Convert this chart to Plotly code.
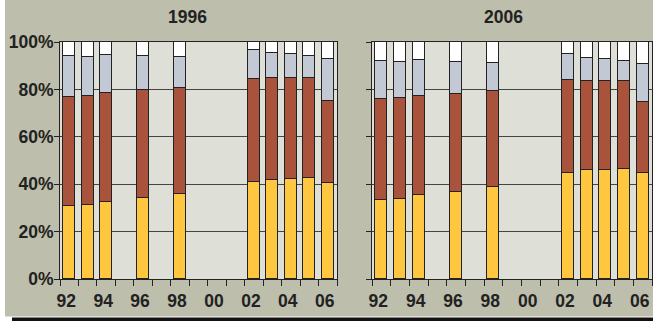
import plotly.graph_objects as go

# ---- data ----
years = [1992, 1993, 1994, 1996, 1998, 2002, 2003, 2004, 2005, 2006]
tick_years = [1992, 1994, 1996, 1998, 2000, 2002, 2004, 2006]
tick_labels = ["92", "94", "96", "98", "00", "02", "04", "06"]
y_ticks = [0, 20, 40, 60, 80, 100]
y_tick_labels = ["0%", "20%", "40%", "60%", "80%", "100%"]
panel_titles = ["1996", "2006"]

# shares (percent) per segment, bottom to top
s1996_yellow = [30.8, 31.2, 32.4, 34.0, 35.9, 40.8, 41.9, 42.1, 42.5, 40.5]
s1996_red = [46.0, 45.9, 45.9, 45.6, 44.7, 43.7, 42.8, 42.6, 42.2, 34.7]
s1996_blue = [17.5, 16.7, 16.2, 14.5, 12.9, 12.0, 10.5, 10.1, 9.3, 17.5]
s1996_white = [5.7, 6.2, 5.5, 5.9, 6.5, 3.5, 4.8, 5.2, 6.0, 7.3]

s2006_yellow = [33.3, 33.9, 35.4, 36.7, 38.8, 44.7, 45.9, 46.1, 46.4, 44.7]
s2006_red = [42.6, 42.3, 41.7, 41.4, 40.4, 39.1, 37.6, 37.6, 37.1, 29.9]
s2006_blue = [16.2, 15.5, 15.2, 13.6, 11.8, 11.1, 9.6, 9.0, 8.6, 16.0]
s2006_white = [7.9, 8.3, 7.7, 8.3, 9.0, 5.1, 6.9, 7.3, 7.9, 9.4]

# ---- styling ----
W, H = 653, 321
ML, MR, MT, MB = 60, 1, 42, 42
PW = W - ML - MR
PH = H - MT - MB

OLIVE = "#BDBEAB"
PLOT_BG = "#DEDFD6"
YELLOW = "#FFC640"
RED = "#A9523C"
BLUE = "#C2C9D4"
WHITE = "#FFFFFF"
DARK = "#222222"
FONT = "Liberation Sans, Arial, sans-serif"


def px_x(p):
    return (p - ML) / PW


def px_y(p):
    return (H - MB - p) / PH


fig = go.Figure()
colors = [YELLOW, RED, BLUE, WHITE]
panels = [
    ("x", "y", [s1996_yellow, s1996_red, s1996_blue, s1996_white]),
    ("x2", "y2", [s2006_yellow, s2006_red, s2006_blue, s2006_white]),
]
for xa, ya, series in panels:
    for vals, col in zip(series, colors):
        fig.add_trace(go.Bar(
            x=years, y=vals, xaxis=xa, yaxis=ya,
            marker=dict(color=col, line=dict(color=DARK, width=1)),
            width=0.66, showlegend=False, hoverinfo="skip",
        ))

xcommon = dict(
    range=[1991.5, 2006.5],
    tickvals=tick_years, ticktext=tick_labels,
    ticks="outside", ticklen=6, tickcolor="rgba(0,0,0,0)",
    ticklabelshift=-3,
    tickfont=dict(family=FONT, size=17.5, color=DARK, weight="bold"),
    showgrid=False, zeroline=False,
    showline=True, linecolor=DARK, linewidth=1, mirror=True,
    minor=dict(tick0=1991.5, dtick=1, ticks="outside", ticklen=6,
               tickcolor=DARK, tickwidth=1, showgrid=False),
    automargin=False,
    fixedrange=True,
)
ycommon = dict(
    range=[0, 100], tickvals=y_ticks, ticktext=y_tick_labels,
    ticks="outside", ticklen=5, tickcolor=DARK, tickwidth=1,
    tickfont=dict(family=FONT, size=17.5, color=DARK, weight="bold"),
    showgrid=True, gridcolor="#444444", gridwidth=1, zeroline=False,
    showline=True, linecolor=DARK, linewidth=1, mirror=True,
    automargin=False,
    fixedrange=True,
)

fig.update_layout(
    width=W, height=H,
    margin=dict(l=ML, r=MR, t=MT, b=MB, pad=0),
    paper_bgcolor=OLIVE, plot_bgcolor=PLOT_BG,
    barmode="stack", bargap=0,
    xaxis=dict(domain=[0, px_x(337)], anchor="y", **xcommon),
    xaxis2=dict(domain=[px_x(372), 1], anchor="y2", **xcommon),
    yaxis=dict(anchor="x", ticklabelstandoff=-3, **ycommon),
    yaxis2=dict(anchor="x2", showticklabels=False,
                **{k: v for k, v in ycommon.items() if k not in ("tickfont",)}),
)

for title, xp in zip(panel_titles, [187, 503]):
    fig.add_annotation(
        x=px_x(xp), y=px_y(17), xref="paper", yref="paper",
        text=title, showarrow=False, xanchor="center", yanchor="middle",
        font=dict(family=FONT, size=17.5, color=DARK, weight="bold"),
    )

# white left strip and bottom strip, black bottom bar
fig.add_shape(type="rect", xref="paper", yref="paper",
              x0=px_x(-1), x1=px_x(5), y0=px_y(-1), y1=px_y(H + 1),
              fillcolor="white", line_width=0, layer="above")
fig.add_shape(type="rect", xref="paper", yref="paper",
              x0=px_x(-1), x1=px_x(W + 1), y0=px_y(316.5), y1=px_y(H + 1),
              fillcolor="white", line_width=0, layer="above")
fig.add_shape(type="rect", xref="paper", yref="paper",
              x0=px_x(12), x1=px_x(W + 1), y0=px_y(317.5), y1=px_y(H + 1),
              fillcolor="#111111", line_width=0, layer="above")

fig.write_html(
    "out.html",
    config={"displayModeBar": False},
    post_script="document.body.style.margin='0';document.body.style.overflow='hidden';",
)
